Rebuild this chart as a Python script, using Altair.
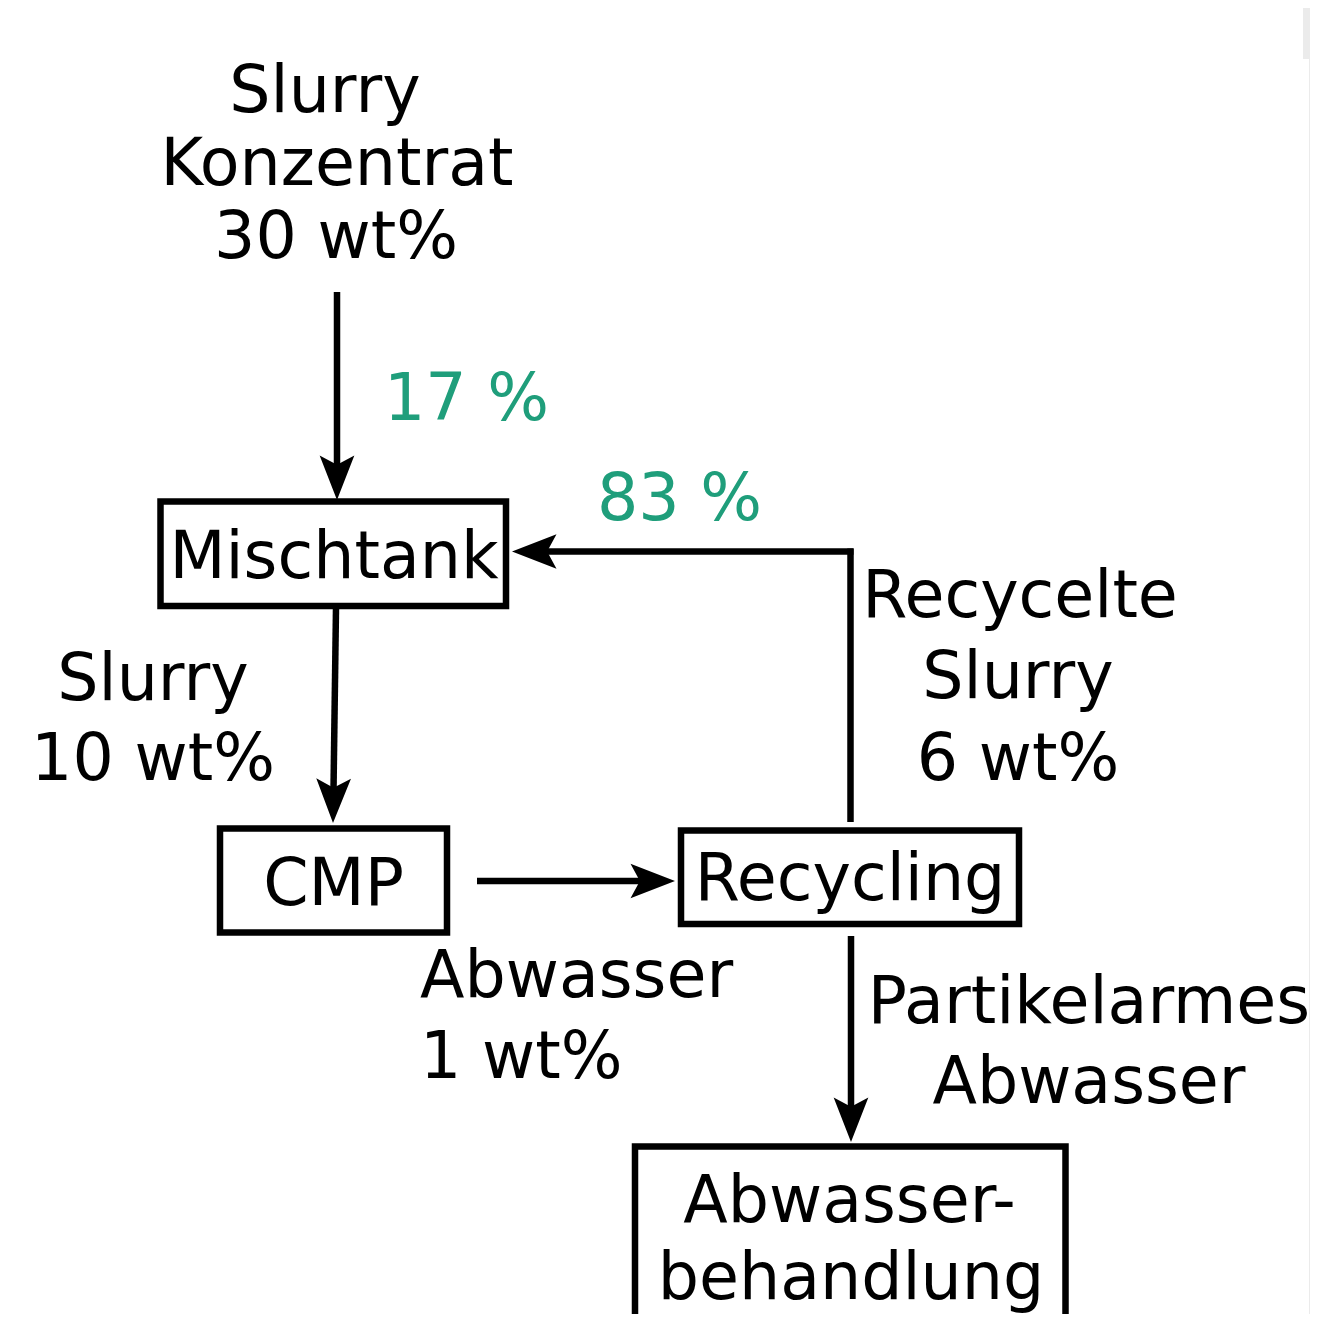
import altair as alt
import pandas as pd

FONT = "DejaVu Sans"
GREEN = "#1f9e7b"

# ---- boxes (process steps) ----
box_names = ["Mischtank", "CMP", "Recycling", "Abwasserbehandlung"]
box_x1 = [160.5, 220, 681, 635]
box_x2 = [506, 447, 1019, 1065.5]
box_y1 = [501.5, 828.5, 830.5, 1146.5]
box_y2 = [606, 932.5, 924, 1345]

# ---- connector segments ----
seg_x1 = [337, 336, 477, 850.5, 853.5, 851]
seg_y1 = [292, 608, 881, 822, 551.5, 936]
seg_x2 = [337, 333.2, 662, 850.5, 525, 851]
seg_y2 = [488, 812, 881, 548.5, 551.5, 1130]

# ---- arrow heads (tip position, direction) ----
head_x = [337, 333, 675, 512, 851]
head_y = [500, 823, 881, 551.5, 1142]
head_angle = [0, 0.8, 270, 90, 0]

# ---- labels ----
text_label = ["Slurry", "Konzentrat", "30 wt%", "17 %", "83 %",
              "Mischtank", "Slurry", "10 wt%", "CMP", "Recycling",
              "Abwasser", "1 wt%", "Recycelte", "Slurry", "6 wt%",
              "Partikelarmes", "Abwasser", "Abwasser-", "behandlung"]
text_x = [325, 337, 336, 384, 597,
          334, 153, 153, 333.5, 850,
          420, 420, 1020, 1018, 1018,
          1089, 1089, 849.5, 851]
text_y = [112, 185, 258, 420, 520,
          578, 700, 780, 905, 900,
          997, 1078, 617, 698, 780,
          1023, 1103, 1222, 1299]
text_align = ["center", "center", "center", "left", "left",
              "center", "center", "center", "center", "center",
              "left", "left", "center", "center", "center",
              "center", "center", "center", "center"]
text_color = ["black", "black", "black", GREEN, GREEN,
              "black", "black", "black", "black", "black",
              "black", "black", "black", "black", "black",
              "black", "black", "black", "black"]

# ---- grey strip at the right edge ----
strip_x1 = [1303, 1309]
strip_x2 = [1312, 1312]
strip_y1 = [0, 59]
strip_y2 = [59, 1330]

xs = alt.Scale(domain=[8, 1310], nice=False, zero=False)
ys = alt.Scale(domain=[8, 1314], nice=False, zero=False, reverse=True)

boxes = pd.DataFrame({"name": box_names, "x": box_x1, "x2": box_x2, "y": box_y1, "y2": box_y2})
segs = pd.DataFrame({"x": seg_x1, "y": seg_y1, "x2": seg_x2, "y2": seg_y2})
heads = pd.DataFrame({"x": head_x, "y": head_y, "angle": head_angle})
texts = pd.DataFrame({"label": text_label, "x": text_x, "y": text_y,
                      "align": text_align, "color": text_color})
strip = pd.DataFrame({"x": strip_x1, "x2": strip_x2, "y": strip_y1, "y2": strip_y2})

strip_layer = alt.Chart(strip).mark_rect(color="#ebebeb", clip=True).encode(
    x=alt.X("x:Q", scale=xs, axis=None), x2="x2:Q",
    y=alt.Y("y:Q", scale=ys, axis=None), y2="y2:Q")

seg_layer = alt.Chart(segs).mark_rule(color="black", strokeWidth=6.5, strokeCap="butt").encode(
    x=alt.X("x:Q", scale=xs, axis=None), x2="x2:Q",
    y=alt.Y("y:Q", scale=ys, axis=None), y2="y2:Q")

box_layer = alt.Chart(boxes).mark_rect(fill="white", stroke="black", strokeWidth=6.5, clip=True).encode(
    x=alt.X("x:Q", scale=xs, axis=None), x2="x2:Q",
    y=alt.Y("y:Q", scale=ys, axis=None), y2="y2:Q")

ARROW = "M0,0 L-0.78,-2 L0,-1.58 L0.78,-2 Z"
head_layer = alt.Chart(heads).mark_point(
    shape=ARROW, filled=True, color="black", opacity=1, size=1980, strokeWidth=0
).encode(
    x=alt.X("x:Q", scale=xs, axis=None),
    y=alt.Y("y:Q", scale=ys, axis=None),
    angle=alt.Angle("angle:Q", scale=None))

def text_layer(align):
    d = texts[texts["align"] == align]
    return alt.Chart(d).mark_text(font=FONT, fontSize=65, baseline="alphabetic", align=align).encode(
        x=alt.X("x:Q", scale=xs, axis=None),
        y=alt.Y("y:Q", scale=ys, axis=None),
        text="label:N",
        color=alt.Color("color:N", scale=None))

chart = alt.layer(strip_layer, seg_layer, box_layer, head_layer,
                  text_layer("center"), text_layer("left")).properties(
    width=1302, height=1306, padding=0, autosize=alt.AutoSizeParams(type="none"),
    background="white"
).configure_view(stroke=None)

chart.save("out.html", embed_options={"renderer": "svg", "actions": False})
